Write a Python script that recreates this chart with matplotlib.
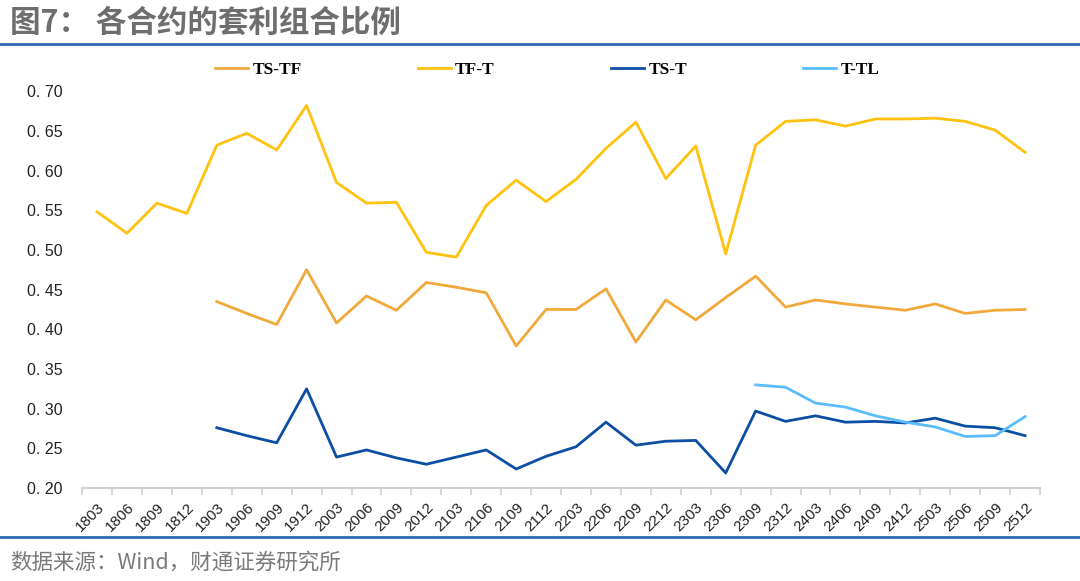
import matplotlib
matplotlib.use('Agg')
import matplotlib.pyplot as plt
import numpy as np

contracts = ['1803', '1806', '1809', '1812', '1903', '1906', '1909', '1912',
             '2003', '2006', '2009', '2012', '2103', '2106', '2109', '2112',
             '2203', '2206', '2209', '2212', '2303', '2306', '2309', '2312',
             '2403', '2406', '2409', '2412', '2503', '2506', '2509', '2512']

nan = np.nan
ts_tf = [nan, nan, nan, nan, 0.435, 0.420, 0.406, 0.475,
         0.408, 0.442, 0.424, 0.459, 0.453, 0.446, 0.379, 0.425,
         0.425, 0.451, 0.384, 0.437, 0.412, 0.440, 0.467, 0.428,
         0.437, 0.432, 0.428, 0.424, 0.432, 0.420, 0.424, 0.425]
tf_t = [0.548, 0.521, 0.559, 0.546, 0.632, 0.647, 0.626, 0.682,
        0.585, 0.559, 0.560, 0.497, 0.491, 0.556, 0.588, 0.561,
        0.589, 0.628, 0.661, 0.590, 0.631, 0.495, 0.632, 0.662,
        0.664, 0.656, 0.665, 0.665, 0.666, 0.662, 0.651, 0.623]
ts_t = [nan, nan, nan, nan, 0.276, 0.266, 0.257, 0.325,
        0.239, 0.248, 0.238, 0.230, 0.239, 0.248, 0.224, 0.240,
        0.252, 0.283, 0.254, 0.259, 0.260, 0.219, 0.297, 0.284,
        0.291, 0.283, 0.284, 0.282, 0.288, 0.278, 0.276, 0.266]
t_tl = [nan] * 22 + [0.330, 0.327, 0.307, 0.302, 0.291, 0.283,
                     0.277, 0.265, 0.266, 0.290]

plt.rcParams['font.family'] = ['Liberation Sans', 'Noto Sans CJK SC', 'DejaVu Sans']

fig = plt.figure(figsize=(10.8, 5.81), dpi=100)
ax = fig.add_axes([0.076, 0.160, 0.887, 0.683])

x = np.arange(len(contracts))
ax.plot(x, ts_tf, color='#F2A93B', lw=2.0, label='TS-TF')
ax.plot(x, tf_t, color='#FFC20E', lw=2.0, label='TF-T')
ax.plot(x, ts_t, color='#0B4EA2', lw=2.0, label='TS-T')
ax.plot(x, t_tl, color='#5BBDFF', lw=2.0, label='T-TL')

ax.set_xlim(-0.5, len(contracts) - 0.5)
ax.set_ylim(0.20, 0.70)
yt = np.arange(0.20, 0.701, 0.05)
ax.set_yticks(yt)
ax.set_yticklabels(['0. %02d' % round(v * 100) for v in yt], fontsize=11.5, color='#222222')
ax.tick_params(axis='y', length=0, pad=14)

ax.set_xticks(x)
ax.set_xticklabels(contracts, rotation=45, ha='right', rotation_mode='anchor',
                   fontsize=11, color='#222222')
ax.tick_params(axis='x', which='major', length=0, pad=9)
ax.set_xticks(np.arange(-0.5, len(contracts)), minor=True)
ax.tick_params(axis='x', which='minor', length=5, color='#D0D0D0', width=1.2)

for s in ['top', 'right', 'left']:
    ax.spines[s].set_visible(False)
ax.spines['bottom'].set_color('#D0D0D0')
ax.spines['bottom'].set_linewidth(1.5)

ax.legend(loc='center left', bbox_to_anchor=(0.191, 0.8795), bbox_transform=fig.transFigure,
          ncol=4, frameon=False, borderpad=0, handlelength=1.9, handletextpad=0.25,
          columnspacing=6.7,
          prop={'family': 'Liberation Serif', 'weight': 'bold', 'size': 12.5})

fig.text(0.009, 0.960, '图7： 各合约的套利组合比例', fontsize=22, fontweight='bold',
         color='#6E6E6E', va='center', family=['Noto Sans CJK SC', 'DejaVu Sans'])
fig.add_artist(plt.Line2D([0, 1], [0.924, 0.924], color='#2C6AB3', lw=2))
fig.add_artist(plt.Line2D([0, 1], [0.076, 0.076], color='#2C6AB3', lw=2))
fig.text(0.009, 0.032, '数据来源：Wind，财通证券研究所', fontsize=15.5,
         color='#7A7A7A', va='center', family=['Noto Sans CJK SC', 'DejaVu Sans'])

fig.savefig('out.png', dpi=100)
